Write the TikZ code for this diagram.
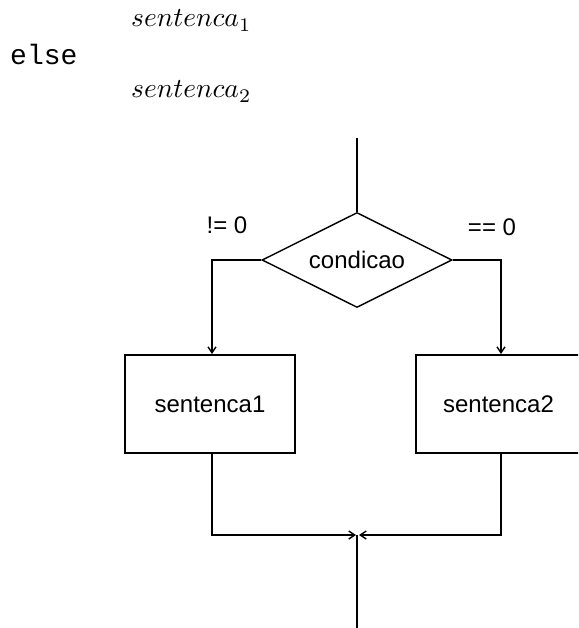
\documentclass[tikz,border=0pt]{standalone}
\usepackage{fontspec}
\newfontfamily\flowfont{Liberation Sans}
\newfontfamily\codefont{Liberation Mono}
\usetikzlibrary{shapes.geometric,arrows.meta}
\tikzset{
  conn/.style={line width=1.8pt},
  arr/.style={conn,-{Straight Barb[length=6pt,width=8pt,line width=1.4pt]}},
  flowtext/.style={font=\flowfont\fontsize{24}{28}\selectfont},
  proc/.style={draw,flowtext,line width=1.8pt,minimum width=170pt,minimum height=98pt,inner sep=0pt},
  decis/.style={draw,flowtext,diamond,aspect=2,line width=1.4pt,minimum width=190pt,minimum height=95pt,inner sep=0pt},
  lbl/.style={flowtext,inner sep=0pt},
  code/.style={anchor=base west,inner sep=0pt}
}
\begin{document}
\begin{tikzpicture}[x=1pt,y=-1pt]
\path[use as bounding box,clip] (0,0) rectangle (578,628);
\fill[white] (0,0) rectangle (578,628);
% code text
\node[code] (s1) at (131,27) {\scalebox{2.75}{$sentenca_1$}};
\node[code,font=\codefont\fontsize{28}{34}\selectfont] (else) at (10,65) {else};
\node[code] (s2) at (131,98) {\scalebox{2.75}{$sentenca_2$}};
% flowchart
\coordinate (top) at (357,138);
\node[decis] (d) at (357,260) {condicao};
\node[proc] (b1) at (210,404) {sentenca1};
\node[proc] (b2) at (501,404) {\hspace*{-5pt}sentenca2};
\node[lbl] (ne) at (227,225) {!= 0};
\node[lbl] (eq) at (492,227) {== 0};
\coordinate (jl) at (356,535);
\coordinate (jr) at (359,535);
\coordinate (j) at (357,535);
\coordinate (bot) at (357,628);
\draw[conn] (top) -- (d.north);
\draw[arr] (d.west) -| ([xshift=2pt]b1.north);
\draw[arr] (d.east) -| (b2.north);
\draw[arr] ([xshift=2pt]b1.south) |- (jl);
\draw[arr] (b2.south) |- (jr);
\draw[conn] (j) -- (bot);
\end{tikzpicture}
\end{document}
